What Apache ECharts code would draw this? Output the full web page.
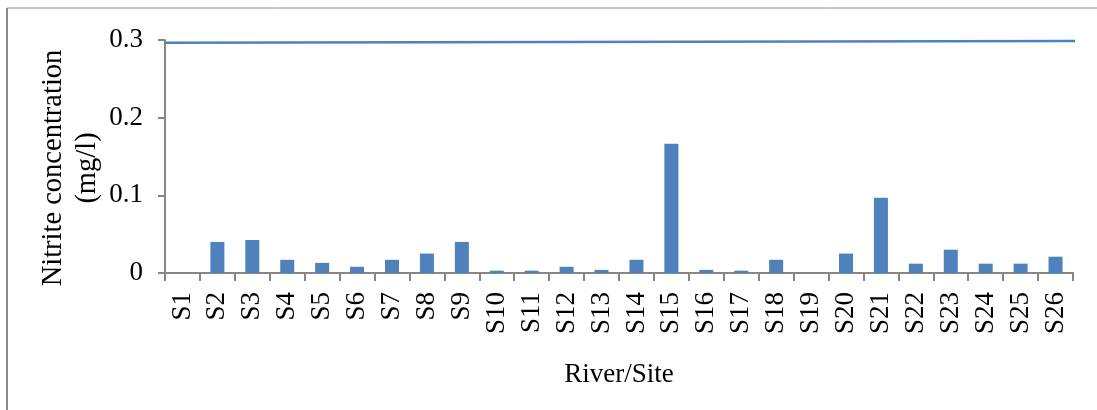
<!DOCTYPE html>
<html><head><meta charset="utf-8">
<script src="https://cdn.jsdelivr.net/npm/echarts@6/dist/echarts.min.js"></script>
<style>html,body{margin:0;padding:0;background:#fff}#c{width:1097px;height:410px}</style>
</head><body><div id="c"></div>
<script>
const categories = ['S1','S2','S3','S4','S5','S6','S7','S8','S9','S10','S11','S12','S13','S14','S15','S16','S17','S18','S19','S20','S21','S22','S23','S24','S25','S26'];
const nitrite = [0, 0.040, 0.0425, 0.017, 0.013, 0.008, 0.017, 0.025, 0.040, 0.003, 0.003, 0.008, 0.004, 0.017, 0.1665, 0.004, 0.003, 0.017, 0, 0.025, 0.097, 0.012, 0.030, 0.012, 0.012, 0.021];
const limitLine = [[0, 0.2965], [1.01, 0.2988]];
const yTicks = [0, 0.1, 0.2, 0.3];

const font = '"Liberation Serif", "Times New Roman", serif';
const axisGray = '#868686';
const chart = echarts.init(document.getElementById('c'));
chart.setOption({
  animation: false,
  backgroundColor: '#fff',
  grid: {left: 165, right: 24, top: 40, bottom: 137, containLabel: false},
  xAxis: [{
    type: 'category', data: categories,
    axisLine: {lineStyle: {color: axisGray, width: 2}},
    axisTick: {show: true, length: 8, lineStyle: {color: axisGray, width: 2}},
    axisLabel: {rotate: 90, fontFamily: font, fontSize: 27, color: '#000', margin: 19, interval: 0},
    name: 'River/Site', nameLocation: 'middle', nameGap: 88,
    nameTextStyle: {fontFamily: font, fontSize: 27, color: '#000'}
  }, {
    type: 'value', min: 0, max: 1, show: false
  }],
  yAxis: {
    type: 'value', min: 0, max: 0.3, interval: 0.1,
    axisLine: {show: true, lineStyle: {color: axisGray, width: 2}},
    axisTick: {show: true, length: 7, lineStyle: {color: axisGray, width: 2}},
    splitLine: {show: false},
    axisLabel: {fontFamily: font, fontSize: 27, color: '#000', margin: 22,
      formatter: v => yTicks.some(t => Math.abs(t - v) < 1e-9) ? (v === 0 ? '0' : v.toFixed(1)) : ''}
  },
  graphic: [
    {type: 'text', rotation: Math.PI/2, x: 71, y: 168,
      style: {text: 'Nitrite concentration\n(mg/l)', font: '28.5px ' + font, fill: '#000', align: 'center', verticalAlign: 'middle', lineHeight: 34}},
    {type: 'line', shape: {x1: 7, y1: 8, x2: 1097, y2: 8}, style: {stroke: '#8a8a8a', lineWidth: 1}},
    {type: 'line', shape: {x1: 7, y1: 8, x2: 7, y2: 410}, style: {stroke: '#8a8a8a', lineWidth: 2}}
  ],
  series: [{
    type: 'bar', data: nitrite, barWidth: 14,
    itemStyle: {color: '#4F81BD'}
  }, {
    type: 'line', xAxisIndex: 1, data: limitLine, symbol: 'none', clip: false,
    lineStyle: {color: '#4F81BD', width: 2.5}
  }]
});
</script></body></html>
